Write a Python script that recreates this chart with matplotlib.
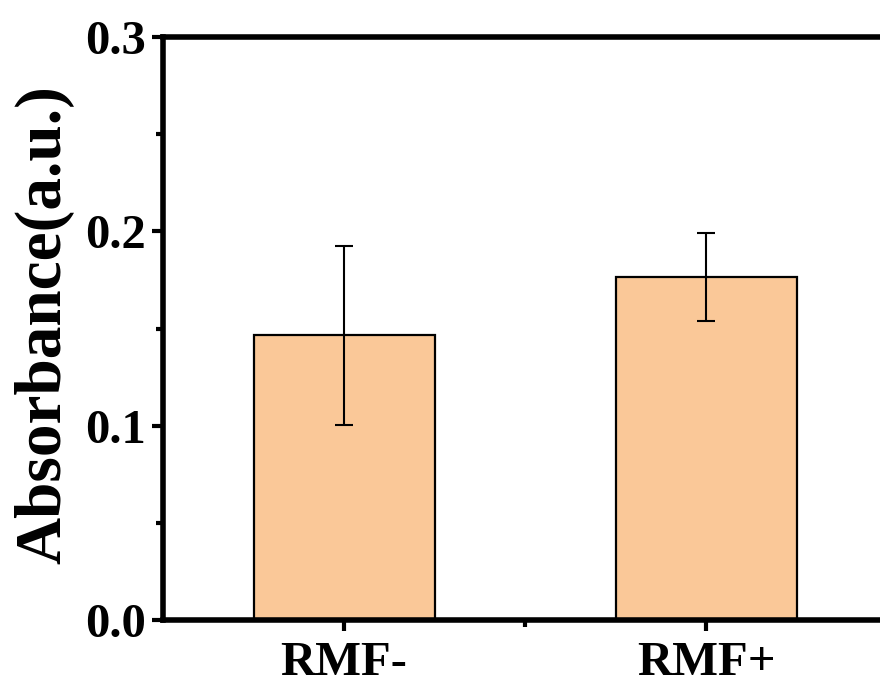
import matplotlib
matplotlib.use("Agg")
import matplotlib.pyplot as plt
from matplotlib.ticker import FixedLocator

categories = ["RMF-", "RMF+"]
values = [0.1465, 0.1765]
errors = [0.046, 0.0225]
yticks = [0.0, 0.1, 0.2, 0.3]
ytick_labels = ["0.0", "0.1", "0.2", "0.3"]
yminor = [0.05, 0.15, 0.25]

plt.rcParams['font.family'] = ['Liberation Serif', 'DejaVu Serif']
plt.rcParams['font.weight'] = 'bold'

fig = plt.figure(figsize=(8.8, 6.84), dpi=100)
ax = fig.add_axes([163/880, 64/684, (887-163)/880, (620-37)/684])

x = list(range(len(categories)))
ax.bar(x, values, width=0.5, color='#FAC898', edgecolor='black', linewidth=1.6,
       yerr=errors, capsize=6.5, error_kw=dict(elinewidth=1.5, capthick=1.5, ecolor='black'), zorder=2)

ax.set_xlim(-0.5, 1.5)
ax.set_ylim(0, 0.3)
ax.set_xticks(x)
ax.set_xticklabels(categories, fontsize=35, fontweight='bold')
ax.xaxis.set_minor_locator(FixedLocator([0.5]))
ax.set_yticks(yticks)
ax.set_yticklabels(ytick_labels, fontsize=35, fontweight='bold')
ax.yaxis.set_minor_locator(FixedLocator(yminor))
ax.tick_params(axis='both', which='major', direction='out', length=8, width=3, pad=4)
ax.tick_params(axis='both', which='minor', direction='out', length=5, width=3)
ax.tick_params(axis='x', which='major', pad=7)
for s in ax.spines.values():
    s.set_linewidth(4)
ax.set_ylabel("Absorbance(a.u.)", fontsize=47, fontweight='bold')
ax.yaxis.set_label_coords(-0.122, 0.506)

fig.savefig("out.png", dpi=100)
